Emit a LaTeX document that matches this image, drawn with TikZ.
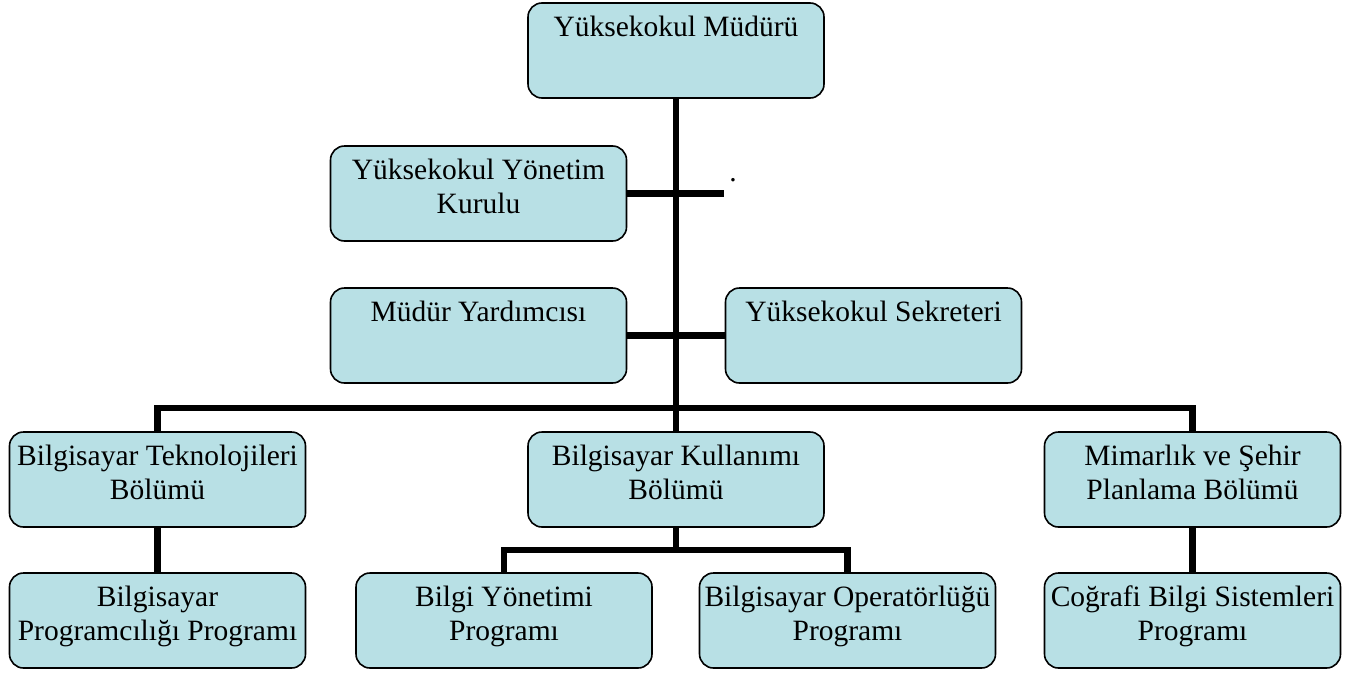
\documentclass[tikz,border=0pt]{standalone}
\usepackage{fontspec}
\setmainfont{Liberation Serif}
\definecolor{boxfill}{RGB}{184,224,229}
\newcommand{\boxtext}[1]{\parbox[c][89pt][t]{290pt}{\centering\rule{0pt}{30pt}#1}}
\tikzset{
  orgbox/.style={draw=black, line width=1.6pt, fill=boxfill, rounded corners=14pt,
    inner sep=3pt, minimum width=296pt, minimum height=95pt,
    font=\fontsize{29.5}{34.5}\selectfont},
  conn/.style={draw=black, line width=6.5pt, line join=miter},
  dotlabel/.style={inner sep=0pt, font=\fontsize{29.5}{34.5}\selectfont}
}
\begin{document}
\begin{tikzpicture}[x=1pt, y=-1pt]
\useasboundingbox (0,0) rectangle (1356,672);
% nodes
\node[orgbox] (mud) at (676,50.5) {\boxtext{Yüksekokul Müdürü}};
\node[orgbox] (kurul) at (478.5,193.5) {\boxtext{Yüksekokul Yönetim\\Kurulu}};
\node[orgbox] (yard) at (478.5,335.5) {\boxtext{Müdür Yardımcısı}};
\node[orgbox] (sekr) at (873.5,335.5) {\boxtext{Yüksekokul Sekreteri}};
\node[orgbox] (tek) at (157.5,479.5) {\boxtext{Bilgisayar Teknolojileri\\Bölümü}};
\node[orgbox] (kul) at (676,479.5) {\boxtext{Bilgisayar Kullanımı\\Bölümü}};
\node[orgbox] (mim) at (1192.5,479.5) {\boxtext{Mimarlık ve Şehir\\Planlama Bölümü}};
\node[orgbox] (prog) at (157.5,620.5) {\boxtext{Bilgisayar\\Programcılığı Programı}};
\node[orgbox] (bily) at (504,620.5) {\boxtext{Bilgi Yönetimi\\Programı}};
\node[orgbox] (oper) at (847.5,620.5) {\boxtext{Bilgisayar Operatörlüğü\\Programı}};
\node[orgbox] (cog) at (1192.5,620.5) {\boxtext{Coğrafi Bilgi Sistemleri\\Programı}};
\node[dotlabel, anchor=base] (dot) at (733,181) {.};
% helper coordinates
\coordinate (stub) at (724,193.5);
\coordinate (barc) at (676,408);
\coordinate (subc) at (676,550);
% connectors
\draw[conn] (mud.south) -- (kul.north);
\draw[conn] (kurul.east) -- (stub);
\draw[conn] (yard.east) -- (sekr.west);
\draw[conn] (tek.north) |- (barc) -| (mim.north);
\draw[conn] (tek.south) -- (prog.north);
\draw[conn] (mim.south) -- (cog.north);
\draw[conn] (kul.south) -- (subc);
\draw[conn] (bily.north) |- (subc) -| (oper.north);
\end{tikzpicture}
\end{document}
